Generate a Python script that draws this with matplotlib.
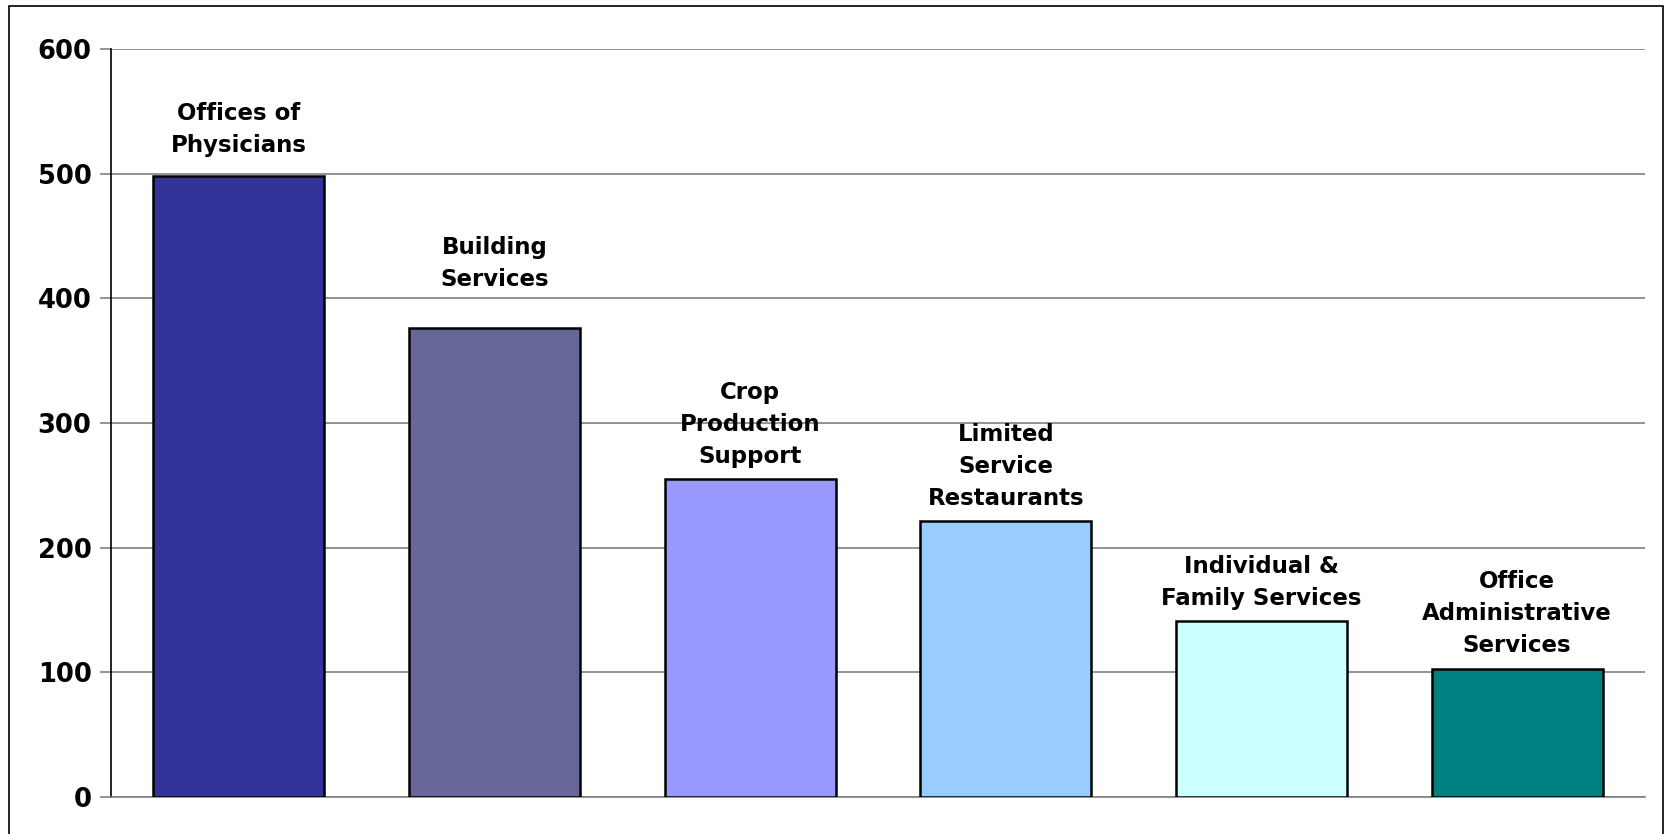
import matplotlib
matplotlib.use("Agg")
import matplotlib.pyplot as plt
from matplotlib.patches import Rectangle

categories = ["Offices of\nPhysicians", "Building\nServices", "Crop\nProduction\nSupport",
              "Limited\nService\nRestaurants", "Individual &\nFamily Services",
              "Office\nAdministrative\nServices"]
values = [498, 376, 255, 221, 141, 103]
colors = ["#333399", "#666699", "#9999FF", "#99CCFF", "#CCFFFF", "#008080"]
yticks = [0, 100, 200, 300, 400, 500, 600]

W, H = 1668, 834
fig = plt.figure(figsize=(W / 100, H / 100), dpi=100)
ax = fig.add_axes([111 / W, 1 - 797 / H, (1645 - 111) / W, (797 - 49) / H])

x = list(range(len(categories)))
bars = ax.bar(x, values, width=0.67, color=colors, edgecolor="black", linewidth=1.8, zorder=3)
ax.set_xlim(-0.5, len(categories) - 0.5)
ax.set_ylim(0, 600)
ax.set_yticks(yticks)
ax.set_yticklabels([str(t) for t in yticks], fontsize=18.5, fontweight="bold")
ax.yaxis.grid(True, color="#808080", linewidth=1.2, zorder=0)
ax.set_xticks([])
for s in ["top", "right"]:
    ax.spines[s].set_visible(False)
ax.spines["bottom"].set_color("#808080")
ax.spines["bottom"].set_linewidth(1.2)
ax.spines["left"].set_color("black")
ax.spines["left"].set_linewidth(1.2)
ax.tick_params(axis="y", length=8, width=1.2, color="#808080", pad=6)

label_offsets = [13.5, 27, 8, 8, 8, 8]  # points above bar top
for xi, v, lab, off in zip(x, values, categories, label_offsets):
    ax.annotate(lab, (xi, v), xytext=(0, off), textcoords="offset points",
                ha="center", va="bottom", fontsize=16.5, fontweight="bold",
                linespacing=1.5)

fig.patches.append(Rectangle((9 / W, -0.05), (1663 - 9) / W, 1.05 - 6 / H,
                             transform=fig.transFigure, fill=False,
                             edgecolor="black", linewidth=1.2))

fig.savefig("out.png", dpi=100)
